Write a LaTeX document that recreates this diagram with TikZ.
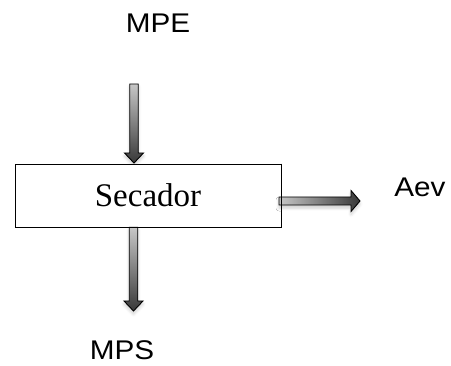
\documentclass[tikz,border=0pt]{standalone}
\usepackage{fontspec}
\newfontfamily\arialfont{Liberation Sans}
\newfontfamily\boxfont{Liberation Serif}
\usetikzlibrary{shadows.blur}
\definecolor{light}{gray}{0.78}
\definecolor{dark}{gray}{0.22}
\tikzset{
  lbl/.style={font=\arialfont\fontsize{27}{30}\selectfont, inner sep=0pt, xscale=1.1},
  procbox/.style={draw=black, line width=0.9pt, fill=white, inner sep=0pt,
    minimum width=266pt, minimum height=63pt,
    font=\boxfont\fontsize{33}{36}\selectfont},
  blockarrow/.style={draw=black, line width=0.9pt, line join=miter,
    blur shadow={shadow xshift=0pt, shadow yshift=-3pt, shadow blur radius=3pt, shadow opacity=20}},
  downarrow/.style={blockarrow, top color=light, bottom color=dark},
  rightarrow/.style={blockarrow, left color=light, right color=dark}
}
\begin{document}
\begin{tikzpicture}[x=1pt,y=-1pt]
\useasboundingbox (0,0) rectangle (451,366);
\node[lbl] (mpe) at (158,23) {MPE};
\node[lbl] (aev) at (420,187) {Aev};
\node[lbl] (mps) at (122,350) {MPS};
% top arrow
\coordinate (ta) at (134,84);
\coordinate (tb) at (134,163);
\path[downarrow] ([xshift=-4.25pt]ta) -- ([xshift=-4.25pt,yshift=10pt]tb) -- ([xshift=-9.5pt,yshift=10pt]tb) -- (tb) -- ([xshift=9.5pt,yshift=10pt]tb) -- ([xshift=4.25pt,yshift=10pt]tb) -- ([xshift=4.25pt]ta) -- cycle;
\node[procbox] (sec) at (148,195.5) {Secador};
% bottom arrow
\coordinate (ba) at (sec.south -| 133.5,0);
\coordinate (bb) at (133.5,311);
\path[downarrow] ([xshift=-4.25pt]ba) -- ([xshift=-4.25pt,yshift=10pt]bb) -- ([xshift=-9.5pt,yshift=10pt]bb) -- (bb) -- ([xshift=9.5pt,yshift=10pt]bb) -- ([xshift=4.25pt,yshift=10pt]bb) -- ([xshift=4.25pt]ba) -- cycle;
% right arrow
\coordinate (ra) at (279,201);
\coordinate (rb) at (360,201);
\path[rightarrow] ([yshift=-4pt]ra) -- ([xshift=-9pt,yshift=-4pt]rb) -- ([xshift=-9pt,yshift=-10.5pt]rb) -- (rb) -- ([xshift=-9pt,yshift=10.5pt]rb) -- ([xshift=-9pt,yshift=4pt]rb) -- ([yshift=4pt]ra) -- cycle;
\draw[line width=0.9pt] (sec.north east) -- (sec.south east);
\end{tikzpicture}
\end{document}
